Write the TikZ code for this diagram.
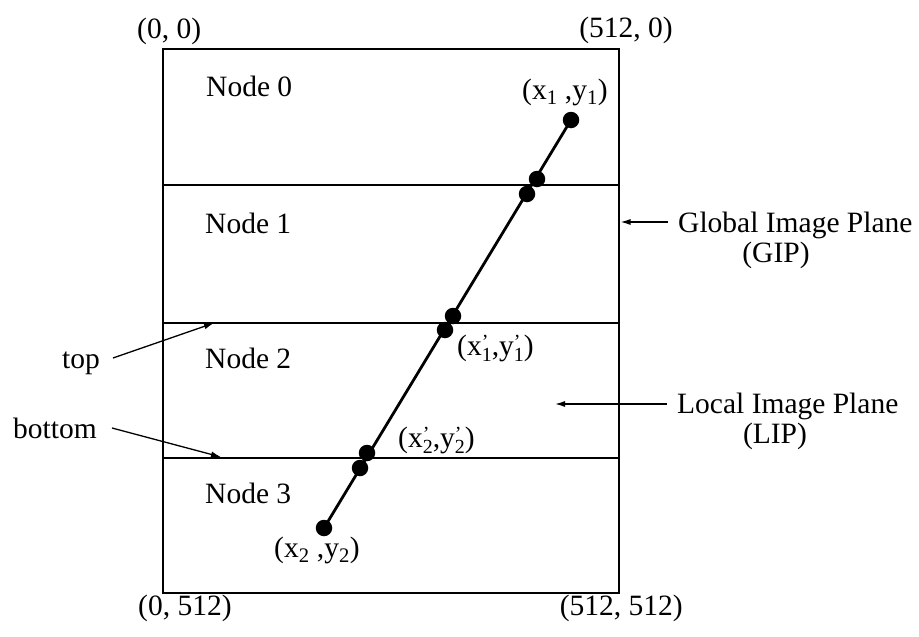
\documentclass[tikz,border=0pt]{standalone}
\usepackage{fontspec}
\setmainfont{Liberation Serif}
\usetikzlibrary{arrows.meta}
\newcommand\sbx[2]{#1\textsubscript{#2}}
\newcommand\prx[2]{#1{\fontsize{20}{20}\selectfont\rlap{\raisebox{7pt}{’}}\raisebox{-6pt}{#2}}}
\begin{document}
\begin{tikzpicture}[x=1pt,y=-1pt,
  lbl/.style={inner sep=0pt,anchor=base west,font=\fontsize{29.5}{35}\selectfont},
  dot/.style={circle,fill=black,inner sep=0pt,minimum size=16.5pt},
  frame/.style={line width=2.4pt},
  divider/.style={line width=1.4pt},
  seg/.style={line width=2.8pt},
  pointer/.style={line width=1.3pt,-{Latex[length=10pt,width=6pt]}}]
\useasboundingbox (0,0) rectangle (919,637);
% frame
\draw[frame] (163,49) rectangle (619,593);
\draw[divider] (163,185) -- (619,185);
\draw[divider] (163,323) -- (619,323);
\draw[divider] (163,458) -- (619,458);
% corner labels
\node[lbl] (c00) at (137,38) {(0, 0)};
\node[lbl,anchor=base east] (c10) at (673,37) {(512, 0)};
\node[lbl] (c01) at (138,615) {(0, 512)};
\node[lbl,anchor=base east] (c11) at (683,615) {(512, 512)};
% node labels
\node[lbl] (n0) at (206,96) {Node 0};
\node[lbl] (n1) at (205,233) {Node 1};
\node[lbl] (n2) at (205,368) {Node 2};
\node[lbl] (n3) at (205,503) {Node 3};
% segment
\node[dot] (p1) at (571,120) {};
\node[dot] (q1) at (537,179) {};
\node[dot] (q2) at (527,194) {};
\node[dot] (q3) at (453,316) {};
\node[dot] (q4) at (445,330) {};
\node[dot] (q5) at (367,453) {};
\node[dot] (q6) at (360,468) {};
\node[dot] (p2) at (324,528) {};
\draw[seg] (p1.center) -- (p2.center);
% point labels
\node[lbl] (l1) at (522,99) {(\sbx{x}{1} ,\sbx{y}{1})};
\node[lbl] (l2) at (457,355) {(\prx{x}{1},\prx{y}{1})};
\node[lbl] (l3) at (398,447) {(\prx{x}{2},\prx{y}{2})};
\node[lbl] (l4) at (274,557) {(\sbx{x}{2} ,\sbx{y}{2})};
% left labels
\node[lbl] (top) at (62,368) {top};
\node[lbl] (bot) at (13,438) {bottom};
\coordinate (topS) at (113,358);
\coordinate (topE) at (214,323);
\coordinate (botS) at (112,428);
\coordinate (botE) at (221,457);
\draw[pointer] (topS) -- (topE);
\draw[pointer] (botS) -- (botE);
% right labels
\node[lbl] (gip) at (678,232) {Global Image Plane};
\node[lbl,anchor=base] (gip2) at (776,262) {(GIP)};
\node[lbl] (lip) at (677,413) {Local Image Plane};
\node[lbl,anchor=base] (lip2) at (775,443) {(LIP)};
\coordinate (gipS) at (668,222);
\coordinate (gipE) at (620.5,222);
\coordinate (lipS) at (667,404);
\coordinate (lipE) at (555,404);
\draw[pointer] (gipS) -- (gipE);
\draw[pointer] (lipS) -- (lipE);
\end{tikzpicture}
\end{document}
